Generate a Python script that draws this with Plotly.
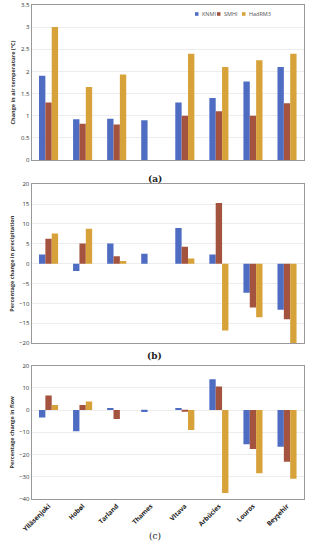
import plotly.graph_objects as go
from plotly.subplots import make_subplots

catchments = ["Ylläsenjoki", "Hobøl", "Tarland", "Thames", "Vltava", "Arbúcies", "Louros", "Beyşehir"]
models = ["KNMI", "SMHI", "HadRM3"]
colors = ["#4F6CC3", "#A4533F", "#D8A23A"]

temp_knmi = [1.9, 0.92, 0.93, 0.9, 1.3, 1.4, 1.77, 2.1]
temp_smhi = [1.3, 0.82, 0.8, None, 1.0, 1.1, 1.0, 1.28]
temp_had = [3.0, 1.65, 1.93, None, 2.4, 2.1, 2.25, 2.4]

prec_knmi = [2.3, -1.8, 5.1, 2.5, 9.0, 2.3, -7.3, -11.6]
prec_smhi = [6.3, 5.1, 1.9, None, 4.3, 15.3, -11.0, -14.0]
prec_had = [7.6, 8.8, 0.7, None, 1.3, -16.8, -13.5, -20.0]

flow_knmi = [-3.3, -9.5, 1.0, -0.9, 1.0, 13.9, -15.4, -16.5]
flow_smhi = [6.6, 2.3, -4.0, None, -0.4, 10.7, -17.5, -23.3]
flow_had = [2.3, 3.9, None, None, -9.0, -37.4, -28.5, -30.9]

panels = [
    [temp_knmi, temp_smhi, temp_had],
    [prec_knmi, prec_smhi, prec_had],
    [flow_knmi, flow_smhi, flow_had],
]

W, H = 309, 550
fig = make_subplots(rows=3, cols=1)
for r, series in enumerate(panels, start=1):
    for m, vals, c in zip(models, series, colors):
        fig.add_trace(go.Bar(x=catchments, y=vals, name=m, marker_color=c,
                             marker_line_width=0, showlegend=False), row=r, col=1)

font = "Open Sans"
fig.update_layout(
    width=W, height=H, margin=dict(l=0, r=0, t=0, b=0, autoexpand=False),
    plot_bgcolor="white", paper_bgcolor="white",
    bargap=0.44, bargroupgap=0,
    font=dict(family=font, size=6, color="#333"),
)

# compact legend (small squares + labels)
leg_x = [195, 217, 242]
leg_y = 14
for m, c, lx in zip(models, colors, leg_x):
    fig.add_shape(type="rect", xref="paper", yref="paper",
                  x0=lx / W, x1=(lx + 3.5) / W, y0=1 - (leg_y + 1.8) / H, y1=1 - (leg_y - 1.8) / H,
                  fillcolor=c, line_width=0)
    fig.add_annotation(text=m, xref="paper", yref="paper", x=(lx + 4.5) / W, y=1 - leg_y / H,
                       xanchor="left", yanchor="middle", showarrow=False,
                       font=dict(size=5.5, color="#555", family=font))

doms = [[0.709, 0.991], [0.376, 0.665], [0.093, 0.335]]
ranges = [[0, 3.5], [-20, 20], [-40, 20]]
dticks = [0.5, 5, 10]
titles = ["Change in air temperature (°C)", "Percentage change in precipitation", "Percentage change in flow"]
for i in range(3):
    fig.update_yaxes(row=i + 1, col=1, domain=doms[i], range=ranges[i], dtick=dticks[i],
                     showgrid=True, gridcolor="#ECECEC", gridwidth=0.8, zeroline=False,
                     showline=True, linecolor="#999", linewidth=1, mirror=True,
                     ticks="", automargin=False, tickfont=dict(size=6, family=font, color="#333"),
                     title=dict(text="<b>" + titles[i] + "</b>", font=dict(size=5.5, color="#333"), standoff=4))
    fig.update_xaxes(row=i + 1, col=1, domain=[0.102, 0.984], automargin=False,
                     showline=True, linecolor="#999", linewidth=1, mirror=True,
                     showticklabels=(i == 2), tickangle=-45, ticks="",
                     tickfont=dict(size=6.5, family=font, color="#222"))

fig.update_xaxes(row=3, col=1, tickvals=catchments, ticktext=["<b>" + c + "</b>" for c in catchments])

for lab, y, bold in [("(a)", 172, True), ("(b)", 356, True), ("(c)", 543, False)]:
    fig.add_annotation(text=("<b>%s</b>" % lab) if bold else lab, x=0.5, y=1 - y / H,
                       xref="paper", yref="paper", showarrow=False,
                       font=dict(family="DejaVu Serif", size=9, color="#222"))

fig.write_html("out.html", config={"displayModeBar": False},
               post_script="document.body.style.margin='0';document.body.style.overflow='hidden';")
